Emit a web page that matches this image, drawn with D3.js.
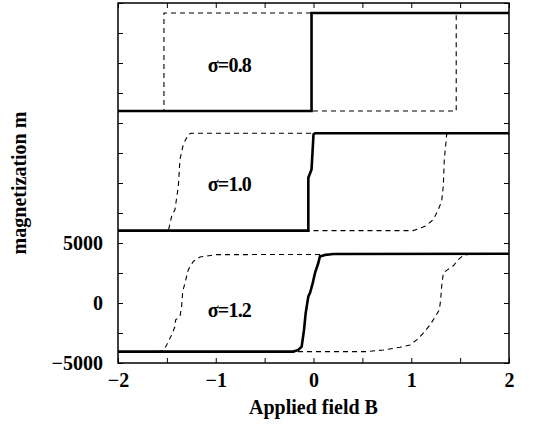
<!DOCTYPE html>
<html>
<head>
<meta charset="utf-8">
<script src="https://cdn.jsdelivr.net/npm/d3@7"></script>
<style>
  body { margin: 0; background: #fff; }
  text { font-family: 'Liberation Serif', 'Times New Roman', serif; fill: #000; }
</style>
</head>
<body>
<script>
// tick labels
const xTickLabels = [-2, -1, 0, 1, 2];
const yTickLabels = [-5000, 0, 5000];

// panel labels
const sigmaLabels = ['σ=0.8', 'σ=1.0', 'σ=1.2'];

// sigma = 0.8 (top panel, shifted up)
const solid08 = [[-2, 16000], [-0.02, 16000], [-0.02, 24170], [2, 24170]];
const dashed08 = [[2, 24170], [-1.53, 24170], [-1.53, 16000], [-2, 16000],
                  [1.46, 16000], [1.46, 24170], [2, 24170]];

// sigma = 1.0 (middle panel)
const solid10 = [[-2, 6030], [-0.053, 6030], [-0.053, 10430], [-0.02, 11130],
                 [0.0, 14050], [0.015, 14140], [2, 14140]];
const dashed10 = [[2, 14140], [-1.25, 14140], [-1.281, 14054], [-1.332, 13218],
                  [-1.366, 11965], [-1.383, 9733], [-1.417, 7786], [-1.451, 7226],
                  [-1.485, 6031], [-2, 6030],
                  [1.02, 6030], [1.141, 6391], [1.226, 6951], [1.277, 7786],
                  [1.311, 8480], [1.328, 9733], [1.338, 11965], [1.355, 13357],
                  [1.362, 14054], [1.38, 14140], [2, 14140]];

// sigma = 1.2 (bottom panel)
const solid12 = [[-2, -4050], [-0.207, -4050], [-0.155, -3914], [-0.121, -3637],
                 [-0.097, -2242], [-0.08, -847], [-0.053, 541], [-0.036, 825],
                 [-0.008, 1660], [0.015, 2492], [0.049, 3332], [0.066, 3885],
                 [0.118, 4000], [0.203, 4080], [2, 4100]];
const dashed12 = [[2, 4080], [-0.99, 4030], [-1.161, 3833], [-1.23, 3466],
                  [-1.281, 2772], [-1.315, 1660], [-1.338, 959], [-1.349, -295],
                  [-1.366, -1130], [-1.41, -1406], [-1.417, -1964], [-1.451, -2660],
                  [-1.502, -3496], [-1.536, -3970], [-1.6, -4050], [-2, -4050],
                  [0.544, -4050], [0.714, -3914], [0.885, -3690], [0.987, -3496],
                  [1.056, -3078], [1.123, -2521], [1.192, -1824], [1.243, -1181],
                  [1.287, -571], [1.301, 265], [1.311, 1380], [1.328, 2492],
                  [1.362, 2716], [1.43, 3106], [1.481, 3608], [1.532, 3970],
                  [1.601, 4060], [2, 4080]];

const svgWidth = 535;
const svgHeight = 426;

const svg = d3.select('body').append('svg')
    .attr('width', svgWidth)
    .attr('height', svgHeight);

const plot = { left: 118, right: 509, top: 3, bottom: 363 };

const x = d3.scaleLinear().domain([-2, 2]).range([plot.left, plot.right]);
const y = d3.scaleLinear().domain([-5000, 25000]).range([plot.bottom, plot.top]);

const tickLen = 5;

// bottom axis: labels at integers, inward ticks every 0.5
const xAxisB = d3.axisBottom(x)
    .tickValues(d3.range(-2, 2.01, 0.5))
    .tickSizeInner(-tickLen).tickSizeOuter(0).tickPadding(10)
    .tickFormat(d => xTickLabels.includes(d) ? d3.format('')(d).replace('-', '\u2212') : '');
const xAxisT = d3.axisTop(x)
    .tickValues(d3.range(-2, 2.01, 0.5))
    .tickSizeInner(-tickLen).tickSizeOuter(0).tickFormat('');

const yAxisL = d3.axisLeft(y)
    .tickValues(d3.range(-5000, 25001, 2500))
    .tickSizeInner(-tickLen).tickSizeOuter(0).tickPadding(15)
    .tickFormat(d => yTickLabels.includes(d) ? String(d).replace('-', '\u2212') : '');
const yAxisR = d3.axisRight(y)
    .tickValues(d3.range(-5000, 25001, 2500))
    .tickSizeInner(-tickLen).tickSizeOuter(0).tickFormat('');

svg.append('g').attr('transform', 'translate(0,' + plot.bottom + ')').call(xAxisB);
svg.append('g').attr('transform', 'translate(0,' + plot.top + ')').call(xAxisT);
svg.append('g').attr('transform', 'translate(' + plot.left + ',0)').call(yAxisL);
svg.append('g').attr('transform', 'translate(' + plot.right + ',0)').call(yAxisR);

svg.selectAll('.domain').remove();
svg.selectAll('.tick line').attr('stroke', '#000').attr('stroke-width', 1);
svg.selectAll('.tick text')
    .style('font-family', "'Liberation Serif', serif")
    .style('font-size', '20px')
    .style('font-weight', 'bold')
    .attr('fill', '#000');

// frame
svg.append('rect')
    .attr('x', plot.left).attr('y', plot.top)
    .attr('width', plot.right - plot.left)
    .attr('height', plot.bottom - plot.top)
    .attr('fill', 'none')
    .attr('stroke', '#000')
    .attr('stroke-width', 1.5);

const line = d3.line().x(d => x(d[0])).y(d => y(d[1]));

const dashedCurves = [dashed08, dashed10, dashed12];
const solidCurves = [solid08, solid10, solid12];

svg.selectAll('path.dashed')
    .data(dashedCurves)
    .enter().append('path')
    .attr('class', 'dashed')
    .attr('d', line)
    .attr('fill', 'none')
    .attr('stroke', '#000')
    .attr('stroke-width', 1.1)
    .attr('stroke-dasharray', '5,4');

svg.selectAll('path.solid')
    .data(solidCurves)
    .enter().append('path')
    .attr('class', 'solid')
    .attr('d', line)
    .attr('fill', 'none')
    .attr('stroke', '#000')
    .attr('stroke-width', 2.6)
    .attr('stroke-linejoin', 'miter');

// sigma labels, one per panel
const labelY = [19250, 9300, -1150];
svg.selectAll('text.sigma')
    .data(sigmaLabels)
    .enter().append('text')
    .attr('class', 'sigma')
    .attr('x', x(-0.86))
    .attr('y', (d, i) => y(labelY[i]))
    .attr('text-anchor', 'middle')
    .style('font-size', '20px')
    .style('font-weight', 'bold')
    .style('letter-spacing', '-0.8px')
    .text(d => d);

// axis titles
svg.append('text')
    .attr('x', (plot.left + plot.right) / 2)
    .attr('y', 414)
    .attr('text-anchor', 'middle')
    .style('font-size', '20px')
    .style('font-weight', 'bold')
    .text('Applied field B');

svg.append('text')
    .attr('transform', 'translate(26,183) rotate(-90)')
    .attr('text-anchor', 'middle')
    .style('font-size', '20px')
    .style('font-weight', 'bold')
    .text('magnetization m');
</script>
</body>
</html>
